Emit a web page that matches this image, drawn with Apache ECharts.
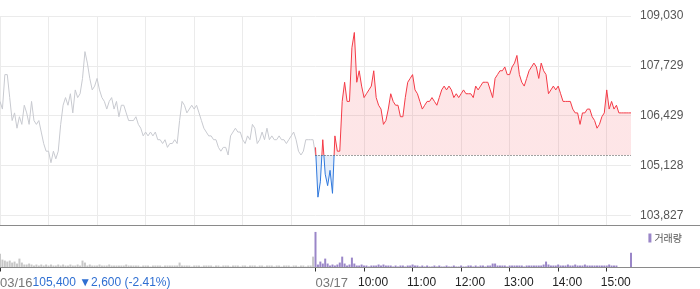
<!DOCTYPE html>
<html><head><meta charset="utf-8">
<script src="https://cdn.jsdelivr.net/npm/echarts@6/dist/echarts.min.js"></script>
<style>html,body{margin:0;padding:0;background:#fff}#c{width:700px;height:289px}</style>
</head><body><div id="c"></div>
<script>
// ---------- data ----------
const day1Date = '03/16';
const day2Date = '03/17';
const stepMinutes = 3;           // sampling step of the series
const prevClose = 105400;        // 03/16 close (baseline of 03/17)
const prevChange = -2600;
const prevChangePct = -2.41;
const yTickValues = [103827, 105128, 106429, 107729, 109030];
const hourLabels = ['10:00', '11:00', '12:00', '13:00', '14:00', '15:00'];

// 03/16 prices, 09:00 .. 15:30 every 3 minutes
const day1Prices = [
  106800,106600,107500,107500,106900,106300,106500,106100,106400,106200,
  106700,106500,106200,106800,106300,106200,106300,106000,105700,105500,
  105500,105200,105500,105300,105500,106200,106700,106900,106700,107000,
  106500,107100,106900,107000,107400,108100,107800,107400,107100,107200,
  107400,107100,106900,106800,106600,106800,106900,106600,106800,106400,
  106700,106700,106500,106300,106300,106300,106400,106200,106100,105900,
  106000,105900,106000,105900,106000,105800,105800,105700,105800,105600,
  105700,105700,105800,105700,106300,106800,106700,106500,106600,106700,
  106600,106700,106500,106300,106100,106000,105900,105900,105800,105800,
  105600,105500,105600,105600,105400,105900,106000,106100,106000,106000,
  105800,105700,105900,105800,106200,106100,105700,105800,106000,105800,
  106100,105800,105900,105800,105800,105900,105800,105800,105700,105800,
  105900,106000,105800,105500,105400,105500,105800,105800,105800,105800,
  105400
];
// 03/17 prices, 09:00 .. 15:30 every 3 minutes
const day2Prices = [
  105600,104300,104700,105800,104900,104600,105000,104400,105900,105500,
  105500,106800,107300,106800,106800,108200,108600,107300,107600,107200,
  106900,107000,107100,107200,107600,106900,106700,106600,106200,106300,
  106600,107000,106800,106700,106700,106400,106400,106900,107300,107400,
  107500,107100,107000,106800,106600,106700,106800,106800,106900,106800,
  106700,106900,107100,107200,107100,107200,107100,106900,107000,106900,
  107000,107100,107000,107000,107000,106900,107200,107100,107200,107300,
  107300,107300,107100,106900,107400,107500,107600,107600,107700,107500,
  107500,107700,107800,108000,107500,107300,107200,107400,107600,107700,
  107800,107700,107400,107800,107600,107500,107000,107100,107200,107100,
  107200,107000,106800,106800,106800,106800,106600,106500,106500,106200,
  106500,106500,106600,106600,106400,106300,106100,106200,106400,106500,
  107100,106600,106800,106600,106700,106500,106500,106500,106500,106500,
  106500
];
// traded volume per 3-minute bin (relative units)
const day1Volume = [
  14,8,7,6,7,5,6,4,9,5,
  3,3,4,3,2,3,2,3,2,3,
  2,3,2,2,3,2,3,2,2,3,
  2,2,3,2,7,5,2,3,2,2,
  2,3,2,2,2,3,2,2,2,2,
  2,2,3,2,2,2,2,2,1,2,
  2,2,1,2,2,2,2,1,2,2,
  2,2,2,2,5,2,2,2,2,1,
  2,2,2,1,2,2,2,2,1,2,
  2,1,2,2,2,1,2,2,2,1,
  2,2,1,2,2,2,1,2,2,1,
  2,2,2,1,2,2,1,2,2,2,
  1,2,2,1,2,2,1,2,2,11
];
const day2Volume = [
  36,3,6,4,9,4,2,3,2,3,
  5,11,4,2,3,10,4,2,2,3,
  2,2,1,2,2,2,3,2,3,2,
  2,2,1,2,1,2,2,1,2,2,
  3,2,2,1,2,1,2,1,1,2,
  1,2,1,1,2,1,1,2,1,1,
  2,1,1,2,2,1,2,1,2,2,
  1,2,2,4,4,2,2,2,2,1,
  2,2,2,2,2,2,1,2,2,2,
  2,2,2,2,3,6,3,2,2,2,
  3,2,2,2,3,2,2,3,2,2,
  2,3,2,2,2,2,2,2,2,2,
  2,3,2,2,2,0,0,0,0,0,
  15
];

// ---------- build ----------
const perDay = day1Prices.length - 1;           // 130 steps per session
const total = perDay * 2 + 1;                   // shared point at 03/17 open
function hhmm(k) {
  const m = 9 * 60 + k * stepMinutes;
  return String(Math.floor(m / 60)).padStart(2, '0') + ':' + String(m % 60).padStart(2, '0');
}
const cats = [];
for (let i = 0; i < total; i++) {
  const v = i < perDay ? day1Date + ' ' + hhmm(i) : day2Date + ' ' + hhmm(i - perDay);
  cats.push((i === 0 || i === perDay) ? { value: v, textStyle: { align: 'left' } } : v);
}
const pad = n => Array(n).fill('-');
const s1 = day1Prices.concat(pad(total - day1Prices.length));
const s2 = pad(perDay).concat(day2Prices);
const v1 = day1Volume.concat(pad(total - day1Volume.length));
const v2 = pad(perDay).concat(day2Volume);
const stepsPerHour = 60 / stepMinutes;
const isHour = i => i === 0 || (i <= perDay ? i % stepsPerHour === 0 : (i - perDay) % stepsPerHour === 0);
const isLabel = i => i === 0 || (i >= perDay && (i - perDay) % stepsPerHour === 0);
const fmt = n => n.toLocaleString('en-US');
const infoText = fmt(prevClose) + ' ' + (prevChange < 0 ? '▼' : '▲') + fmt(Math.abs(prevChange)) +
  ' (' + prevChangePct.toFixed(2) + '%)';

const FONT = "'Liberation Sans', Arial, sans-serif";
const RED = '#f43a46', BLUE = '#2f78dc', PURPLE = '#9a86c8', GRAYLINE = '#c8cad0';
const Y_MIN = 103560, Y_MAX = 109030;

const chart = echarts.init(document.getElementById('c'), null, { renderer: 'canvas' });
chart.setOption({
  animation: false,
  backgroundColor: '#fff',
  textStyle: { fontFamily: FONT },
  grid: [
    { left: 0, right: 69, top: 16, bottom: 63.5, outerBoundsMode: 'none' },
    { left: 0, right: 69, top: 226, bottom: 21.5, outerBoundsMode: 'none' }
  ],
  legend: {
    data: ['거래량'], right: 18, top: 233, padding: 0, icon: 'rect',
    itemWidth: 3, itemHeight: 9, itemGap: 4, selectedMode: false,
    textStyle: { fontSize: 10, color: '#555', fontFamily: "'Noto Sans CJK KR', sans-serif", padding: [0, 0, 0, -2] }
  },
  xAxis: [
    {
      type: 'category', gridIndex: 0, data: cats, boundaryGap: false,
      axisLine: { show: false }, axisTick: { show: false }, axisLabel: { show: false },
      splitLine: { show: true, interval: (i) => isHour(i), lineStyle: { color: '#ebebeb', width: 1 } }
    },
    {
      type: 'category', gridIndex: 1, data: cats, boundaryGap: false,
      axisLine: { show: false },
      axisTick: { show: true, interval: (i) => isLabel(i), length: 4, lineStyle: { color: '#333' } },
      axisLabel: {
        show: true, interval: (i) => isLabel(i), margin: 9, hideOverlap: false,
        fontFamily: FONT,
        formatter: (value, index) => {
          if (index === 0) return '{d|' + day1Date + '}{i|' + infoText + '}';
          if (index === perDay) return '{d|' + day2Date + '}';
          return '{t|' + value.slice(6) + '}';
        },
        rich: {
          d: { fontSize: 13, color: '#777', fontFamily: FONT },
          i: { fontSize: 12, color: '#2f6fd2', fontFamily: FONT },
          t: { fontSize: 12, color: '#222', fontFamily: FONT, padding: [0, 0, 0, 18] }
        }
      },
      splitLine: { show: false }
    }
  ],
  yAxis: [
    {
      type: 'value', gridIndex: 0, position: 'right', min: Y_MIN, max: Y_MAX,
      axisLine: { show: false },
      axisTick: { show: false, customValues: yTickValues },
      axisLabel: { customValues: yTickValues, formatter: v => fmt(Math.round(v)), color: '#555', fontSize: 12, margin: 9, fontFamily: FONT },
      splitLine: { show: true, lineStyle: { color: '#ebebeb', width: 1 } }
    },
    { type: 'value', gridIndex: 1, show: false, min: 0, max: 42, splitLine: { show: false } }
  ],
  visualMap: {
    type: 'piecewise', show: false, seriesIndex: 1,
    pieces: [{ gt: prevClose, lte: Y_MAX + 10000, color: RED }, { gte: Y_MIN - 10000, lte: prevClose, color: BLUE }]
  },
  series: [
    {
      name: day1Date, type: 'line', xAxisIndex: 0, yAxisIndex: 0, data: s1,
      symbol: 'none', silent: true, lineStyle: { width: 1, color: GRAYLINE }, itemStyle: { color: GRAYLINE }
    },
    {
      name: day2Date, type: 'line', xAxisIndex: 0, yAxisIndex: 0, data: s2,
      symbol: 'none', silent: true, lineStyle: { width: 1 },
      areaStyle: { origin: prevClose, opacity: 0.13 },
      markLine: {
        silent: true, symbol: ['none', 'none'], label: { show: false },
        lineStyle: { type: [1, 2], color: '#444', width: 1 },
        data: [[{ coord: [perDay, prevClose] }, { coord: [total - 1, prevClose] }]]
      }
    },
    {
      name: 'vol1', type: 'bar', xAxisIndex: 1, yAxisIndex: 1, data: v1,
      barWidth: 2, barGap: '-100%', silent: true, itemStyle: { color: '#c8c8c8' }
    },
    {
      name: '거래량', type: 'bar', xAxisIndex: 1, yAxisIndex: 1, data: v2,
      barWidth: 2, barGap: '-100%', silent: true, itemStyle: { color: PURPLE }
    }
  ],
  graphic: [
    { type: 'line', silent: true, z: 10, shape: { x1: 0, y1: 225.5, x2: 700, y2: 225.5 }, style: { stroke: '#8a8a8a', lineWidth: 1 } },
    { type: 'line', silent: true, z: 10, shape: { x1: 0, y1: 267.5, x2: 700, y2: 267.5 }, style: { stroke: '#8a8a8a', lineWidth: 1 } }
  ]
});
</script>
</body></html>
